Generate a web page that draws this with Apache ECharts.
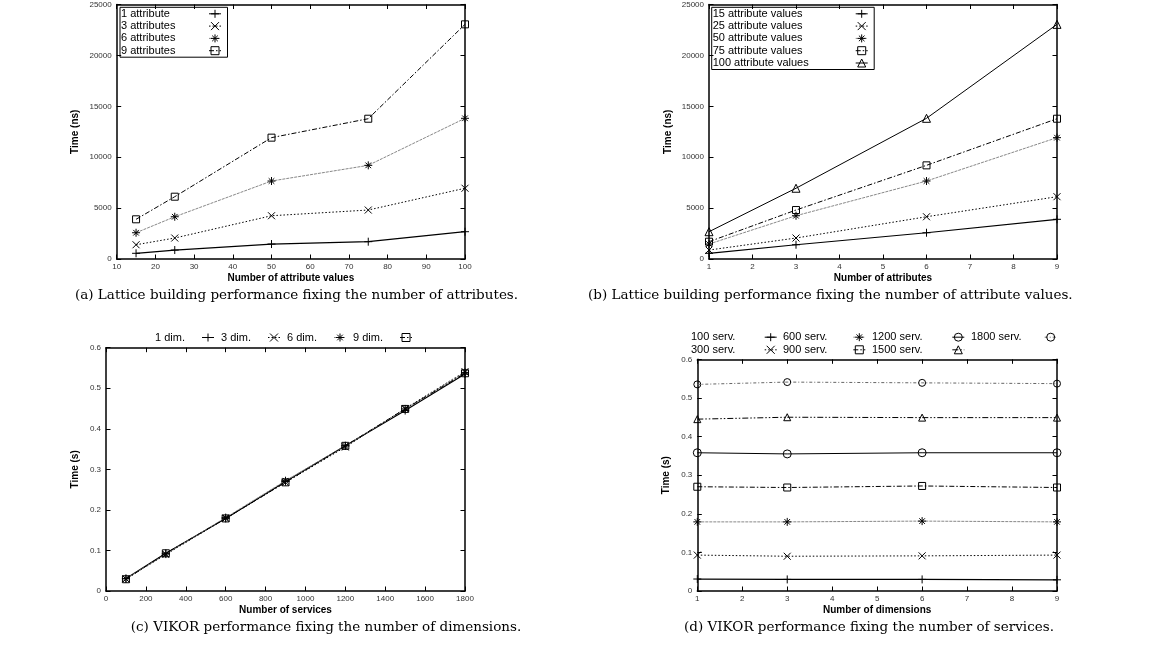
<!DOCTYPE html>
<html><head><meta charset="utf-8">
<script src="https://cdn.jsdelivr.net/npm/echarts@6/dist/echarts.min.js"></script>
<style>html,body{margin:0;padding:0;background:#fff}#c{width:1164px;height:648px}</style>
</head><body><div id="c"></div>
<script>
// ---- (a) Lattice building, x = number of attribute values
const attrValues = [15, 25, 50, 75, 100];
const a1attr = [560, 880, 1470, 1700, 2680];
const a3attr = [1400, 2060, 4250, 4810, 6950];
const a6attr = [2580, 4150, 7660, 9200, 13820];
const a9attr = [3900, 6120, 11920, 13780, 23050];
// ---- (b) Lattice building, x = number of attributes
const numAttrs = [1, 3, 6, 9];
const b15 = [560, 1400, 2580, 3900];
const b25 = [880, 2060, 4150, 6120];
const b50 = [1470, 4250, 7660, 11920];
const b75 = [1700, 4810, 9200, 13780];
const b100 = [2680, 6950, 13820, 23050];
// ---- (c) VIKOR, x = number of services
const services = [100, 300, 600, 900, 1200, 1500, 1800];
const c1dim = [0.031, 0.093, 0.179, 0.270, 0.358, 0.445, 0.535];
const c3dim = [0.030, 0.090, 0.179, 0.268, 0.355, 0.450, 0.541];
const c6dim = [0.030, 0.091, 0.181, 0.272, 0.358, 0.449, 0.539];
const c9dim = [0.029, 0.093, 0.179, 0.268, 0.358, 0.449, 0.537];
// ---- (d) VIKOR, x = number of dimensions
const dims = [1, 3, 6, 9];
const d100 = [0.031, 0.030, 0.030, 0.029];
const d300 = [0.093, 0.090, 0.091, 0.093];
const d600 = [0.179, 0.179, 0.181, 0.179];
const d900 = [0.270, 0.268, 0.272, 0.268];
const d1200 = [0.358, 0.355, 0.358, 0.358];
const d1500 = [0.445, 0.450, 0.449, 0.449];
const d1800 = [0.535, 0.541, 0.539, 0.537];

const captions = [
  '(a) Lattice building performance fixing the number of attributes.',
  '(b) Lattice building performance fixing the number of attribute values.',
  '(c) VIKOR performance fixing the number of dimensions.',
  '(d) VIKOR performance fixing the number of services.'
];

const FONT = 'Liberation Sans';
const P = 'path://';
const SYM = {
  plus: P + 'M0,5L10,5M5,0L5,10',
  cross: P + 'M1,1L9,9M1,9L9,1',
  star: P + 'M0,5L10,5M5,0L5,10M1.5,1.5L8.5,8.5M1.5,8.5L8.5,1.5',
  square: P + 'M0,0L10,0L10,10L0,10Z',
  circle: P + 'M10,5A5,5,0,1,1,0,5A5,5,0,1,1,10,5Z',
  tri: P + 'M5,0L10,9L0,9Z'
};
const LS = {
  solid: {color: '#000', width: 1.2, type: 'solid'},
  dot: {color: '#000', width: 1, type: [1.5, 2]},
  gray: {color: '#888', width: 1, type: [3, 1]},
  dashdot: {color: '#000', width: 1, type: [5, 2, 1.5, 2]},
  solid5: {color: '#000', width: 1, type: 'solid'},
  dashdotdot: {color: '#000', width: 1, type: [6, 2, 1.5, 2, 1.5, 2]},
  graydash: {color: '#666', width: 1, type: [3, 2, 1, 2]}
};

const fmt = v => String(+Number(v).toFixed(6));

function line(name, gi, xs, ys, ls, sym, size) {
  return {
    type: 'line', name, xAxisIndex: 2 * gi, yAxisIndex: 2 * gi,
    data: xs.map((x, i) => [x, ys[i]]),
    symbol: sym, symbolSize: size || 8, showSymbol: true,
    lineStyle: ls,
    itemStyle: {color: 'rgba(0,0,0,0)', borderColor: '#000', borderWidth: 1},
    emphasis: {disabled: true}, animation: false, z: 3
  };
}

function xAx(gi, min, max, interval, name, pos) {
  const bottom = pos === 'bottom';
  return {
    type: 'value', gridIndex: gi, position: pos, min, max, interval,
    axisLine: {show: true, onZero: false, lineStyle: {color: '#000', width: 1.5}},
    axisTick: {show: true, inside: true, length: 4.5, lineStyle: {color: '#000', width: 1}},
    axisLabel: {show: bottom, color: '#333', fontSize: 8, margin: 4, fontFamily: FONT, formatter: fmt},
    splitLine: {show: false},
    name: bottom ? name : '', nameLocation: 'middle', nameGap: 14, nameMoveOverlap: false,
    nameTextStyle: {fontWeight: 'bold', fontSize: 10, color: '#000', fontFamily: FONT}
  };
}
function yAx(gi, min, max, interval, name, pos, gap) {
  const left = pos === 'left';
  return {
    type: 'value', gridIndex: gi, position: pos, min, max, interval,
    axisLine: {show: true, onZero: false, lineStyle: {color: '#000', width: 1.5}},
    axisTick: {show: true, inside: true, length: 4.5, lineStyle: {color: '#000', width: 1}},
    axisLabel: {show: left, color: '#333', fontSize: 8, margin: 5, fontFamily: FONT, formatter: fmt},
    splitLine: {show: false},
    name: left ? name : '', nameLocation: 'middle', nameGap: gap, nameMoveOverlap: false,
    nameTextStyle: {fontWeight: 'bold', fontSize: 10, color: '#000', fontFamily: FONT}
  };
}

function legend(names, left, top, textW, orient, itemWidth, itemGap, boxed) {
  const l = {
    data: names, left, top, orient, align: 'right', selectedMode: false,
    itemWidth, itemHeight: 10, itemGap, padding: boxed ? [1, 6, 1, 1] : 0,
    itemStyle: {borderWidth: 1, borderColor: '#000'},
    lineStyle: {width: 1},
    formatter: n => '{t|' + n + '}',
    textStyle: {color: '#000', fontFamily: FONT, fontSize: 11,
      rich: {t: {width: textW, align: 'left', fontSize: 11, lineHeight: 10, fontFamily: FONT, color: '#000'}}}
  };
  if (boxed) { l.borderColor = '#000'; l.borderWidth = 1; }
  return l;
}

const names = {
  a: ['1 attribute', '3 attributes', '6 attributes', '9 attributes'],
  b: ['15 attribute values', '25 attribute values', '50 attribute values', '75 attribute values', '100 attribute values'],
  c: ['1 dim.', '3 dim.', '6 dim.', '9 dim.'],
  d: ['100 serv.', '300 serv.', '600 serv.', '900 serv.', '1200 serv.', '1500 serv.', '1800 serv.']
};

const series = [
  line(names.a[0], 0, attrValues, a1attr, LS.solid, SYM.plus),
  line(names.a[1], 0, attrValues, a3attr, LS.dot, SYM.cross, 7),
  line(names.a[2], 0, attrValues, a6attr, LS.gray, SYM.star),
  line(names.a[3], 0, attrValues, a9attr, LS.dashdot, SYM.square, 7),

  line(names.b[0], 1, numAttrs, b15, LS.solid, SYM.plus),
  line(names.b[1], 1, numAttrs, b25, LS.dot, SYM.cross, 7),
  line(names.b[2], 1, numAttrs, b50, LS.gray, SYM.star),
  line(names.b[3], 1, numAttrs, b75, LS.dashdot, SYM.square, 7),
  line(names.b[4], 1, numAttrs, b100, LS.solid5, SYM.tri, 8),

  line(names.c[0], 2, services, c1dim, LS.solid, SYM.plus),
  line(names.c[1], 2, services, c3dim, LS.dot, SYM.cross, 7),
  line(names.c[2], 2, services, c6dim, LS.gray, SYM.star),
  line(names.c[3], 2, services, c9dim, LS.dashdot, SYM.square, 7),

  line(names.d[0], 3, dims, d100, LS.solid, SYM.plus),
  line(names.d[1], 3, dims, d300, LS.dot, SYM.cross, 7),
  line(names.d[2], 3, dims, d600, LS.gray, SYM.star),
  line(names.d[3], 3, dims, d900, LS.dashdot, SYM.square, 7),
  line(names.d[4], 3, dims, d1200, LS.solid5, SYM.circle, 8),
  line(names.d[5], 3, dims, d1500, LS.dashdotdot, SYM.tri, 7),
  line(names.d[6], 3, dims, d1800, LS.graydash, SYM.circle, 7)
];

const option = {
  animation: false,
  backgroundColor: '#fff',
  textStyle: {fontFamily: FONT},
  grid: [
    {left: 116.7, top: 4.5, width: 348.3, height: 254.5, containLabel: false, outerBoundsMode: 'none'},
    {left: 709, top: 4.5, width: 348, height: 254.5, containLabel: false, outerBoundsMode: 'none'},
    {left: 106, top: 347.7, width: 359, height: 243.3, containLabel: false, outerBoundsMode: 'none'},
    {left: 697.3, top: 359.3, width: 359.7, height: 231.7, containLabel: false, outerBoundsMode: 'none'}
  ],
  xAxis: [
    xAx(0, 10, 100, 10, 'Number of attribute values', 'bottom'), xAx(0, 10, 100, 10, '', 'top'),
    xAx(1, 1, 9, 1, 'Number of attributes', 'bottom'), xAx(1, 1, 9, 1, '', 'top'),
    xAx(2, 0, 1800, 200, 'Number of services', 'bottom'), xAx(2, 0, 1800, 200, '', 'top'),
    xAx(3, 1, 9, 1, 'Number of dimensions', 'bottom'), xAx(3, 1, 9, 1, '', 'top')
  ],
  yAxis: [
    yAx(0, 0, 25000, 5000, 'Time (ns)', 'left', 36), yAx(0, 0, 25000, 5000, '', 'right', 0),
    yAx(1, 0, 25000, 5000, 'Time (ns)', 'left', 36), yAx(1, 0, 25000, 5000, '', 'right', 0),
    yAx(2, 0, 0.6, 0.1, 'Time (s)', 'left', 26), yAx(2, 0, 0.6, 0.1, '', 'right', 0),
    yAx(3, 0, 0.6, 0.1, 'Time (s)', 'left', 26), yAx(3, 0, 0.6, 0.1, '', 'right', 0)
  ],
  legend: [
    legend(names.a, 120, 7.3, 83, 'vertical', 12, 1.3, true),
    legend(names.b, 711.7, 7.3, 138, 'vertical', 12, 1.3, true),
    legend(names.c, 155, 332, 42, 'horizontal', 12, 6.5, false),
    legend([names.d[0], names.d[1]], 691, 331.7, 68.7, 'vertical', 12, 1.6, false),
    legend([names.d[2], names.d[3]], 783, 331.7, 65.3, 'vertical', 12, 1.6, false),
    legend([names.d[4], names.d[5]], 872, 331.7, 75.3, 'vertical', 12, 1.6, false),
    legend([names.d[6]], 971, 331.7, 68.7, 'vertical', 12, 1.6, false)
  ],
  graphic: [
    {type: 'text', silent: true, style: {text: captions[0], x: 75, y: 295, align: 'left', verticalAlign: 'middle', font: '13.5px "DejaVu Serif"', fill: '#000'}},
    {type: 'text', silent: true, style: {text: captions[1], x: 588, y: 295, align: 'left', verticalAlign: 'middle', font: '13.5px "DejaVu Serif"', fill: '#000'}},
    {type: 'text', silent: true, style: {text: captions[2], x: 326, y: 627, align: 'center', verticalAlign: 'middle', font: '13.5px "DejaVu Serif"', fill: '#000'}},
    {type: 'text', silent: true, style: {text: captions[3], x: 869, y: 627, align: 'center', verticalAlign: 'middle', font: '13.5px "DejaVu Serif"', fill: '#000'}}
  ],
  series
};

const chart = echarts.init(document.getElementById('c'), null, {renderer: 'canvas'});
chart.setOption(option);
</script>
</body></html>
